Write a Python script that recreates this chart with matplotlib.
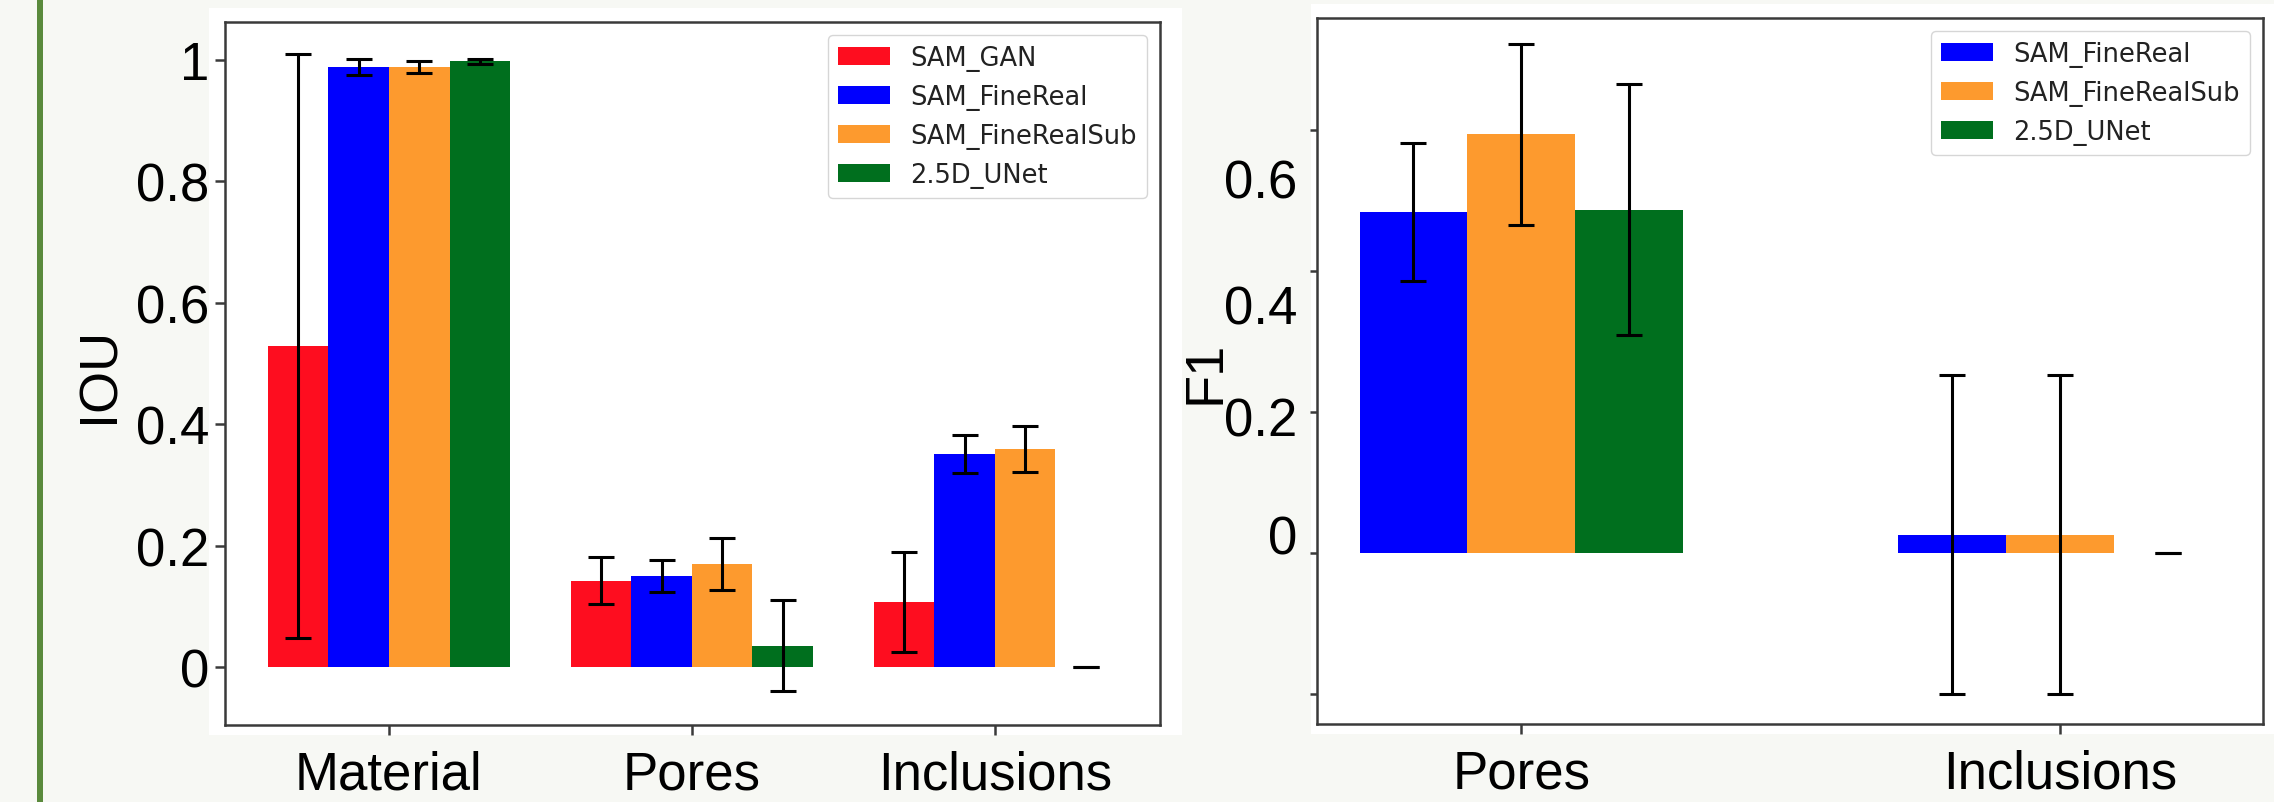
import matplotlib
matplotlib.use('Agg')
import matplotlib.pyplot as plt
import numpy as np
from matplotlib.patches import Rectangle

# ---------------- data ----------------
iou_categories = ['Material', 'Pores', 'Inclusions']
iou_series = ['SAM_GAN', 'SAM_FineReal', 'SAM_FineRealSub', '2.5D_UNet']
iou_sam_gan = [0.529, 0.142, 0.107]
iou_sam_gan_err = [0.481, 0.039, 0.082]
iou_sam_finereal = [0.989, 0.150, 0.351]
iou_sam_finereal_err = [0.013, 0.027, 0.032]
iou_sam_finerealsub = [0.989, 0.169, 0.359]
iou_sam_finerealsub_err = [0.010, 0.043, 0.038]
iou_unet = [0.998, 0.035, 0.0]
iou_unet_err = [0.004, 0.075, 0.0]
iou_ticks = [0, 0.2, 0.4, 0.6, 0.8, 1.0]
iou_tick_labels = ['0', '0.2', '0.4', '0.6', '0.8', '1']

f1_categories = ['Pores', 'Inclusions']
f1_series = ['SAM_FineReal', 'SAM_FineRealSub', '2.5D_UNet']
f1_sam_finereal = [0.484, 0.026]
f1_sam_finereal_err = [0.098, 0.226]
f1_sam_finerealsub = [0.594, 0.026]
f1_sam_finerealsub_err = [0.128, 0.226]
f1_unet = [0.487, 0.0]
f1_unet_err = [0.178, 0.0]
f1_ticks = [-0.2, 0, 0.2, 0.4, 0.6]
f1_tick_labels = ['0', '0.2', '0.4', '0.6']
f1_label_pos = [0.027, 0.194, 0.353, 0.532]

colors = {'SAM_GAN': '#fe0d1f', 'SAM_FineReal': '#0000fe',
          'SAM_FineRealSub': '#fd9a2e', '2.5D_UNet': '#006f1e'}

# ---------------- figure ----------------
W, H = 2274, 803
fig = plt.figure(figsize=(W / 100, H / 100), dpi=100)
fig.patch.set_facecolor('#f7f8f4')

def px_rect(x0, y0, x1, y1):
    return [x0 / W, 1 - y1 / H, (x1 - x0) / W, (y1 - y0) / H]

# white backgrounds behind the panels and green side line
for (x0, y0, x1, y1) in [(209, 9, 1182, 736), (1311, 5, 2274, 735)]:
    r = px_rect(x0, y0, x1, y1)
    fig.patches.append(Rectangle((r[0], r[1]), r[2], r[3], transform=fig.transFigure,
                                 facecolor='white', edgecolor='none', zorder=-5))
fig.patches.append(Rectangle((37 / W, 0), 6 / W, 1, transform=fig.transFigure,
                             facecolor='#5a8a3c', edgecolor='none', zorder=-5))

tick_font = dict(family='Liberation Sans', size=38)
err_kw = dict(elinewidth=2.2, capthick=2.2, ecolor='black')
capsize = 9.6
spine_col = '#3a3a3a'
legend_prop = dict(family='DejaVu Sans', size=18.5)

def style_axes(ax):
    for s in ax.spines.values():
        s.set_color(spine_col)
        s.set_linewidth(1.8)
    ax.set_facecolor('white')

# ---------------- left: IOU ----------------
ax1 = fig.add_axes(px_rect(225, 23, 1160, 726))
style_axes(ax1)
x = np.arange(len(iou_categories))
w = 0.2
iou_vals = [iou_sam_gan, iou_sam_finereal, iou_sam_finerealsub, iou_unet]
iou_errs = [iou_sam_gan_err, iou_sam_finereal_err, iou_sam_finerealsub_err, iou_unet_err]
offsets = [-0.3, -0.1, 0.1, 0.3]
for name, v, e, o in zip(iou_series, iou_vals, iou_errs, offsets):
    ax1.bar(x + o, v, w, yerr=e, capsize=capsize, color=colors[name], label=name,
            error_kw=err_kw)
ax1.set_xlim(-0.541, 2.545)
ax1.set_ylim(-0.0956, 1.0626)
ax1.set_xticks(x)
ax1.set_xticklabels(iou_categories, fontdict=tick_font)
ax1.set_yticks(iou_ticks)
ax1.set_yticklabels(iou_tick_labels, fontdict=tick_font)
ax1.tick_params(axis='y', length=7, width=1.8, color=spine_col, pad=4.5)
ax1.tick_params(axis='x', length=7, width=1.8, color=spine_col, pad=11)
ax1.set_ylabel('IOU', family='Liberation Sans', size=39)
ax1.yaxis.set_label_coords(-0.107, 0.5)
leg1 = ax1.legend(loc='upper right', prop=legend_prop)
for t in leg1.get_texts():
    t.set_color('#222222')

# ---------------- right: F1 ----------------
ax2 = fig.add_axes(px_rect(1317, 19, 2263, 725))
style_axes(ax2)
x2 = np.arange(len(f1_categories))
f1_vals = [f1_sam_finereal, f1_sam_finerealsub, f1_unet]
f1_errs = [f1_sam_finereal_err, f1_sam_finerealsub_err, f1_unet_err]
offsets2 = [-0.2, 0.0, 0.2]
for name, v, e, o in zip(f1_series, f1_vals, f1_errs, offsets2):
    ax2.bar(x2 + o, v, w, yerr=e, capsize=capsize, color=colors[name], label=name,
            error_kw=err_kw)
ax2.set_xlim(-0.379, 1.377)
ax2.set_ylim(-0.2426, 0.759)
ax2.set_xticks(x2)
ax2.set_xticklabels(f1_categories, fontdict=tick_font)
ax2.set_yticks(f1_ticks)
ax2.set_yticklabels([])
ax2.set_yticks(f1_label_pos, minor=True)
ax2.set_yticklabels(f1_tick_labels, minor=True, fontdict=tick_font)
ax2.tick_params(axis='x', length=7, width=1.8, color=spine_col, pad=11)
ax2.tick_params(axis='y', which='major', length=5, width=1.8, color=spine_col)
ax2.tick_params(axis='y', which='minor', length=0, pad=14)
ax2.set_ylabel('F1', family='Liberation Sans', size=39)
ax2.yaxis.set_label_coords(-0.091, 0.5)
leg2 = ax2.legend(loc='upper right', prop=legend_prop)
for t in leg2.get_texts():
    t.set_color('#222222')

fig.savefig('out.png', dpi=100, facecolor=fig.get_facecolor())
